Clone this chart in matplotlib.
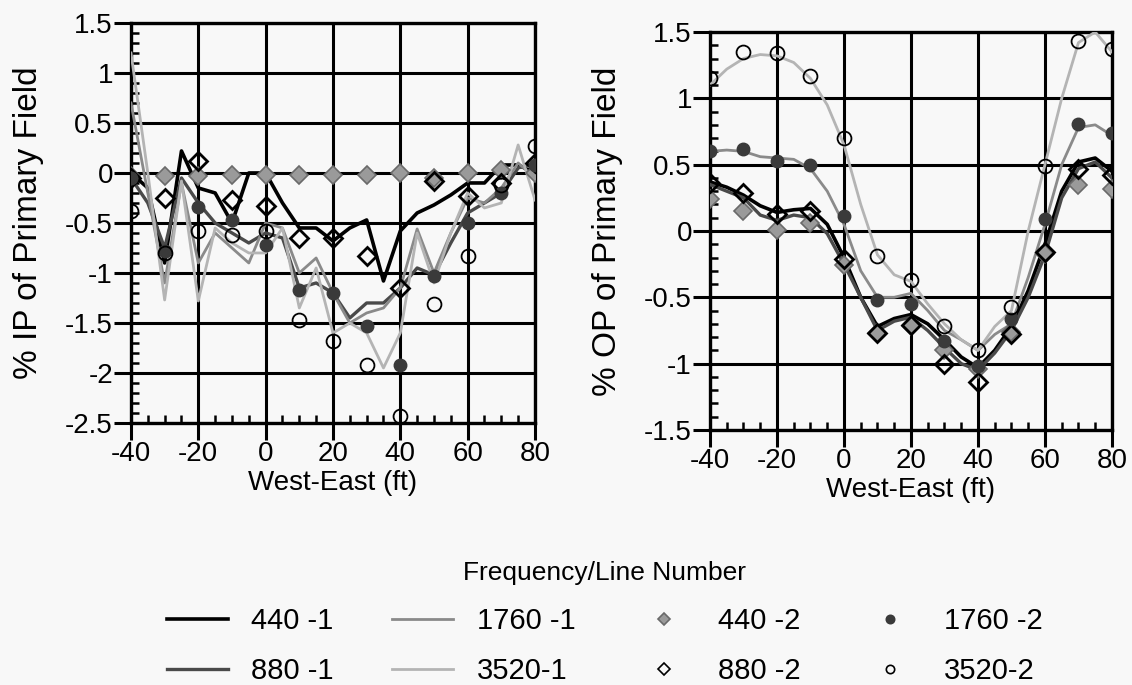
import matplotlib
matplotlib.use("Agg")
import matplotlib.pyplot as plt
from matplotlib.lines import Line2D
from matplotlib.ticker import MultipleLocator, FormatStrFormatter

plt.rcParams["font.family"] = ["Liberation Sans", "DejaVu Sans"]
plt.rcParams["axes.unicode_minus"] = False

# positions (ft)
x10 = [-40, -30, -20, -10, 0, 10, 20, 30, 40, 50, 60, 70, 80]
x5 = [-40, -35, -30, -25, -20, -15, -10, -5, 0, 5, 10, 15, 20,
      25, 30, 35, 40, 45, 50, 55, 60, 65, 70, 75, 80]

# in-phase, line 1 (every 5 ft)
ip_440_1 = [0.0, -0.15, -0.9, 0.22, -0.15, -0.2, -0.5, 0.0, 0.0, -0.3, -0.55, -0.55, -0.68,
            -0.55, -0.47, -1.08, -0.58, -0.4, -0.32, -0.22, -0.1, -0.1, 0.08, 0.08, 0.0]
ip_880_1 = [-0.05, -0.3, -0.75, -0.05, -0.3, -0.5, -0.6, -0.7, -0.6, -0.65, -1.15, -1.1, -1.2,
            -1.45, -1.3, -1.3, -1.15, -0.95, -1.02, -0.7, -0.4, -0.3, -0.2, 0.05, 0.1]
ip_1760_1 = [0.7, -0.2, -1.1, -0.1, -0.9, -0.6, -0.75, -0.9, -0.5, -0.55, -1.0, -0.85, -1.2,
             -1.5, -1.4, -1.35, -1.15, -0.56, -1.0, -0.6, -0.25, -0.3, -0.15, 0.1, -0.05]
ip_3520_1 = [1.2, 0.0, -1.27, -0.08, -1.28, -0.55, -0.7, -0.8, -0.8, -0.55, -1.35, -0.95, -1.6,
             -1.5, -1.6, -1.95, -1.6, -0.6, -1.1, -0.6, -0.2, -0.35, -0.3, 0.28, -0.27]
# in-phase, line 2 (every 10 ft)
ip_440_2 = [-0.03, -0.03, -0.03, -0.02, -0.02, -0.02, -0.02, -0.02, 0.0, -0.05, 0.0, 0.03, 0.0]
ip_880_2 = [-0.05, -0.25, 0.12, -0.27, -0.33, -0.65, -0.65, -0.83, -1.15, -0.08, -0.23, -0.1, 0.1]
ip_1760_2 = [-0.05, -0.78, -0.34, -0.47, -0.72, -1.17, -1.2, -1.53, -1.92, -1.03, -0.5, -0.2, 0.08]
ip_3520_2 = [-0.38, -0.8, -0.58, -0.62, -0.58, -1.47, -1.68, -1.92, -2.43, -1.31, -0.83, -0.12, 0.27]

# out-of-phase, line 1
op_440_1 = [0.37, 0.33, 0.27, 0.19, 0.14, 0.16, 0.17, 0.05, -0.2, -0.5, -0.72, -0.66, -0.63,
            -0.7, -0.82, -0.95, -1.03, -0.9, -0.72, -0.45, -0.1, 0.3, 0.52, 0.55, 0.45]
op_880_1 = [0.35, 0.3, 0.25, 0.12, 0.08, 0.12, 0.1, -0.02, -0.25, -0.5, -0.75, -0.68, -0.65,
            -0.75, -0.88, -1.0, -1.05, -0.92, -0.75, -0.5, -0.18, 0.25, 0.47, 0.52, 0.4]
op_1760_1 = [0.6, 0.61, 0.6, 0.56, 0.55, 0.54, 0.47, 0.3, 0.05, -0.3, -0.5, -0.5, -0.47,
             -0.6, -0.75, -0.82, -0.9, -0.78, -0.7, -0.35, 0.05, 0.5, 0.78, 0.8, 0.72]
op_3520_1 = [1.1, 1.22, 1.3, 1.33, 1.32, 1.27, 1.15, 0.95, 0.65, 0.2, -0.18, -0.33, -0.38,
             -0.55, -0.7, -0.82, -0.9, -0.72, -0.6, 0.0, 0.5, 1.0, 1.42, 1.5, 1.35]
# out-of-phase, line 2
op_440_2 = [0.24, 0.15, 0.01, 0.06, -0.26, -0.77, -0.72, -0.9, -1.04, -0.76, -0.17, 0.35, 0.32]
op_880_2 = [0.36, 0.29, 0.13, 0.15, -0.21, -0.77, -0.71, -1.0, -1.14, -0.78, -0.16, 0.47, 0.42]
op_1760_2 = [0.6, 0.62, 0.53, 0.5, 0.11, -0.52, -0.55, -0.83, -1.02, -0.66, 0.09, 0.81, 0.74]
op_3520_2 = [1.15, 1.35, 1.34, 1.17, 0.7, -0.19, -0.37, -0.72, -0.9, -0.57, 0.49, 1.43, 1.37]

line_styles = {
    "440 -1": dict(color="black", lw=2.6),
    "880 -1": dict(color="#4a4a4a", lw=2.4),
    "1760 -1": dict(color="#8a8a8a", lw=2.0),
    "3520-1": dict(color="#b4b4b4", lw=2.0),
}
marker_styles = {
    "440 -2": dict(marker="D", ms=9, mfc="#9a9a9a", mec="#6a6a6a", mew=1.2),
    "880 -2": dict(marker="D", ms=9, mfc="none", mec="black", mew=2.0),
    "1760 -2": dict(marker="o", ms=9, mfc="#3a3a3a", mec="#3a3a3a", mew=1),
    "3520-2": dict(marker="o", ms=10, mfc="none", mec="black", mew=1.3),
}

bg = "#f8f8f8"
fig = plt.figure(figsize=(11.32, 6.85), dpi=100, facecolor=bg)
ax1 = fig.add_axes([0.1157, 0.3825, 0.3569, 0.584])
ax2 = fig.add_axes([0.6272, 0.3723, 0.3551, 0.581])


def draw(ax, lines, marks, ylim, ylabel):
    ax.set_facecolor(bg)
    for (name, st), y in zip(line_styles.items(), lines):
        ax.plot(x5, y, zorder=3, **st)
    for (name, st), y in zip(marker_styles.items(), marks):
        ax.plot(x10, y, ls="none", zorder=4, **st)
    ax.set_xlim(-40, 80)
    ax.set_ylim(*ylim)
    ax.xaxis.set_major_locator(MultipleLocator(20))
    ax.xaxis.set_minor_locator(MultipleLocator(5))
    ax.yaxis.set_major_locator(MultipleLocator(0.5))
    ax.yaxis.set_minor_locator(MultipleLocator(0.1))
    ax.yaxis.set_major_formatter(FormatStrFormatter("%g"))
    ax.grid(True, which="major", color="black", lw=2.2)
    ax.set_axisbelow(True)
    ax.tick_params(which="major", direction="out", length=12, width=2.2,
                   labelsize=20, pad=1)
    ax.tick_params(which="minor", direction="in", length=6, width=1.8)
    for s in ax.spines.values():
        s.set_linewidth(2.4)
    ax.set_xlabel("West-East (ft)", fontsize=20, labelpad=2)
    ax.set_ylabel(ylabel, fontsize=24, labelpad=15)


draw(ax1, [ip_440_1, ip_880_1, ip_1760_1, ip_3520_1],
     [ip_440_2, ip_880_2, ip_1760_2, ip_3520_2], (-2.5, 1.5), "% IP of Primary Field")
draw(ax2, [op_440_1, op_880_1, op_1760_1, op_3520_1],
     [op_440_2, op_880_2, op_1760_2, op_3520_2], (-1.5, 1.5), "% OP of Primary Field")

handles = []
labels = []
for name, st in line_styles.items():
    handles.append(Line2D([], [], **st))
    labels.append(name)
for name, st in marker_styles.items():
    st2 = dict(st)
    st2["ms"] = 6
    st2["mew"] = 1.2
    handles.append(Line2D([], [], ls="none", **st2))
    labels.append(name)

leg = fig.legend(handles, labels, ncol=4, loc="center", bbox_to_anchor=(0.534, 0.09),
                 frameon=False, fontsize=21, title="Frequency/Line Number",
                 title_fontsize=19, handlelength=2.1, handletextpad=0.8,
                 columnspacing=2.0, labelspacing=0.75)

fig.savefig("out.png", dpi=100, facecolor=bg)
